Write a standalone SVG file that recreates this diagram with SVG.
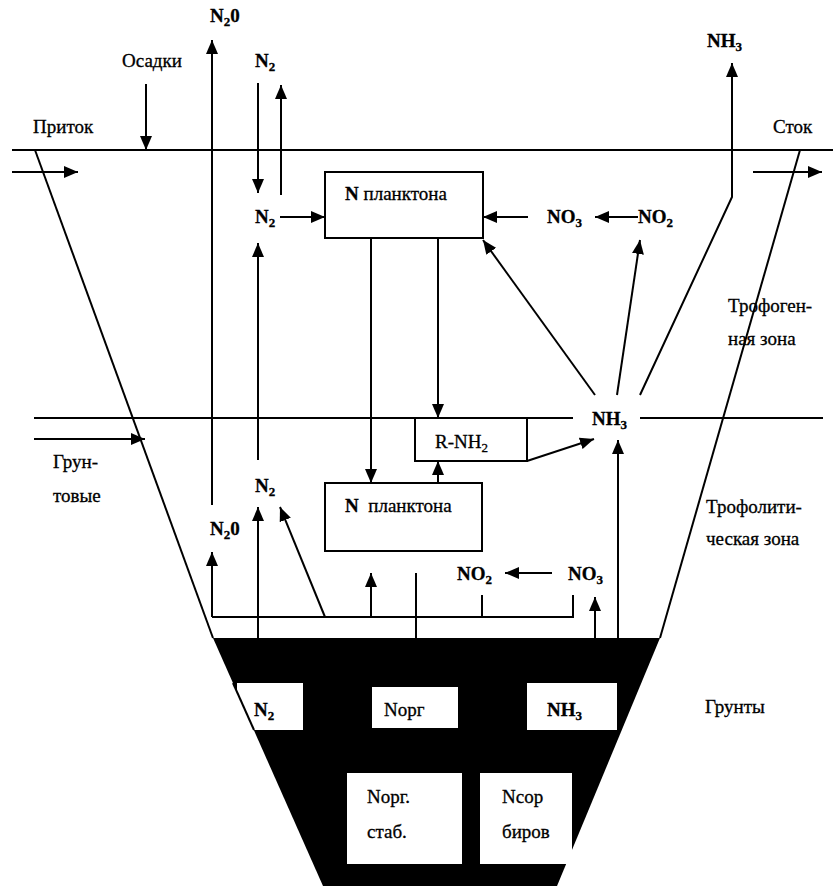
<svg xmlns="http://www.w3.org/2000/svg" width="833" height="886" viewBox="0 0 833 886">
<style>
.ln{stroke:#000;stroke-width:2;fill:none}
.ar{stroke:#000;stroke-width:2;fill:none;marker-end:url(#ah)}
.box{fill:#fff;stroke:#000;stroke-width:2}
.wbox{fill:#fff;stroke:none}
text{font-family:"Liberation Serif","Times New Roman",serif;font-size:19px;fill:#000;stroke:#000;stroke-width:0.3}
.f{font-weight:bold}
.s{font-size:13px}
</style>
<defs>
<marker id="ah" markerUnits="userSpaceOnUse" markerWidth="14" markerHeight="12" refX="14" refY="6" orient="auto">
<path d="M0,0 L14,6 L0,12 z" fill="#000"/>
</marker>
</defs>
<rect width="833" height="886" fill="#fff"/>

<g id="basin">
<line class="ln" x1="12" y1="150" x2="833" y2="150"/>
<line class="ln" x1="35" y1="150" x2="213" y2="638"/>
<line class="ln" x1="800" y1="150" x2="660" y2="638"/>
<line class="ln" x1="34" y1="418" x2="573" y2="418"/>
<line class="ln" x1="640" y1="418" x2="823" y2="418"/>
<polygon points="213,638 660,638 557,886 323,886" fill="#000"/>
</g>

<g id="labels">
<text x="122" y="67">Осадки</text>
<text x="33" y="133">Приток</text>
<text x="773" y="133">Сток</text>
<text x="728" y="312">Трофоген-</text>
<text x="728" y="345">ная зона</text>
<text x="706" y="513">Трофолити-</text>
<text x="706" y="545">ческая зона</text>
<text x="53" y="468">Грун-</text>
<text x="53" y="502">товые</text>
<text x="705" y="713">Грунты</text>
</g>

<g id="connectors">
<line class="ar" x1="146" y1="84" x2="146" y2="150"/>
<line class="ar" x1="12" y1="172" x2="78" y2="172"/>
<line class="ar" x1="753" y1="172" x2="822" y2="172"/>
<line class="ar" x1="34" y1="439" x2="145" y2="439"/>
<line class="ar" x1="212" y1="505" x2="212" y2="40"/>
<line class="ar" x1="258" y1="83" x2="258" y2="193"/>
<line class="ar" x1="281" y1="195" x2="281" y2="85"/>
<line class="ar" x1="280" y1="217" x2="325" y2="217"/>
<line class="ar" x1="258" y1="460" x2="258" y2="243"/>
<line class="ar" x1="528" y1="217" x2="483" y2="217"/>
<line class="ar" x1="638" y1="217" x2="595" y2="217"/>
<line class="ar" x1="371" y1="238" x2="371" y2="483"/>
<line class="ar" x1="438" y1="238" x2="438" y2="418"/>
<line class="ar" x1="438" y1="483" x2="438" y2="461"/>
<line class="ar" x1="527" y1="461" x2="594" y2="439"/>
<line class="ar" x1="595" y1="395" x2="483" y2="240"/>
<line class="ar" x1="617" y1="395" x2="640" y2="240"/>
<path class="ar" d="M640,395 L732,197 L732,63"/>
<line class="ar" x1="618" y1="638" x2="618" y2="440"/>
<line class="ar" x1="258" y1="638" x2="258" y2="507"/>
<line class="ar" x1="325" y1="617" x2="280" y2="507"/>
<line class="ar" x1="212" y1="617" x2="212" y2="552"/>
<line class="ar" x1="371" y1="617" x2="371" y2="573"/>
<line class="ln" x1="416" y1="573" x2="416" y2="638"/>
<line class="ar" x1="552" y1="573" x2="505" y2="573"/>
<line class="ln" x1="482" y1="595" x2="482" y2="617"/>
<polyline class="ln" points="212,617 573,617 573,595"/>
<line class="ar" x1="595" y1="638" x2="595" y2="597"/>
</g>

<g id="n2o-top"><text class="f" x="210" y="22">N<tspan class="s" dy="4">2</tspan><tspan dy="-4">0</tspan></text></g>
<g id="n2-top"><text class="f" x="255" y="67">N<tspan class="s" dy="4">2</tspan></text></g>
<g id="nh3-top"><text class="f" x="707" y="47">NH<tspan class="s" dy="4">3</tspan></text></g>
<g id="n2-mid"><text class="f" x="255" y="223">N<tspan class="s" dy="4">2</tspan></text></g>
<g id="no3-top"><text class="f" x="547" y="223">NO<tspan class="s" dy="4">3</tspan></text></g>
<g id="no2-top"><text class="f" x="638" y="223">NO<tspan class="s" dy="4">2</tspan></text></g>

<g id="plankton-top">
<rect class="box" x="325" y="172" width="158" height="66"/>
<text x="345" y="200"><tspan class="f">N</tspan> планктона</text>
</g>

<g id="rnh2">
<rect class="box" x="415" y="418" width="112" height="43"/>
<text x="435" y="448">R-NH<tspan class="s" dy="4">2</tspan></text>
</g>

<g id="nh3-mid"><text class="f" x="592" y="425">NH<tspan class="s" dy="4">3</tspan></text></g>

<g id="plankton-low">
<rect class="box" x="325" y="483" width="157" height="68"/>
<text x="345" y="512" xml:space="preserve"><tspan class="f">N</tspan>  планктона</text>
</g>

<g id="n2-low"><text class="f" x="255" y="492">N<tspan class="s" dy="4">2</tspan></text></g>
<g id="n2o-low"><text class="f" x="210" y="535">N<tspan class="s" dy="4">2</tspan><tspan dy="-4">0</tspan></text></g>
<g id="no2-low"><text class="f" x="457" y="580">NO<tspan class="s" dy="4">2</tspan></text></g>
<g id="no3-low"><text class="f" x="568" y="580">NO<tspan class="s" dy="4">3</tspan></text></g>

<g id="soil-n2">
<rect class="wbox" x="237" y="683" width="66" height="47"/>
<line class="ln" x1="233" y1="683" x2="254" y2="730"/>
<text class="f" x="254" y="716">N<tspan class="s" dy="4">2</tspan></text>
</g>
<g id="soil-norg">
<rect class="wbox" x="372" y="687" width="86" height="41"/>
<text x="384" y="716">Nорг</text>
</g>
<g id="soil-nh3">
<rect class="wbox" x="527" y="683" width="90" height="47"/>
<text class="f" x="547" y="716">NH<tspan class="s" dy="4">3</tspan></text>
</g>
<g id="soil-norg-stab">
<rect class="wbox" x="347" y="773" width="115" height="91"/>
<text x="367" y="803">Nорг.</text>
<text x="367" y="838">стаб.</text>
</g>
<g id="soil-nsorb">
<rect class="wbox" x="480" y="773" width="92" height="91"/>
<text x="502" y="803">Nсор</text>
<text x="502" y="838">биров</text>
</g>
</svg>
